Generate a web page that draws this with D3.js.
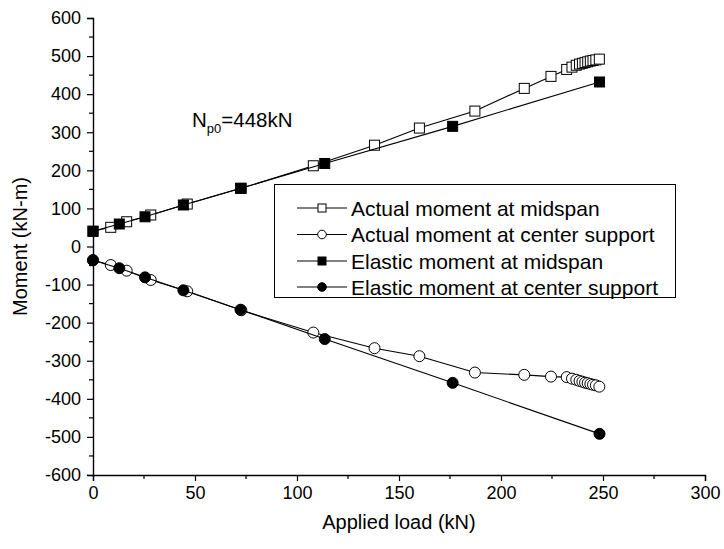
<!DOCTYPE html>
<html>
<head>
<meta charset="utf-8">
<script src="https://cdn.jsdelivr.net/npm/d3@7"></script>
<style>
  html, body { margin: 0; padding: 0; background: #fff; }
  svg { display: block; font-family: "Liberation Sans", Arial, sans-serif; }
</style>
</head>
<body>
<svg id="chart" width="724" height="549"></svg>
<script>
// Measured loads (kN) for the actual-moment series
const loadActual = [0, 8.7, 16.5, 28.3, 46.2, 72.7, 108, 138, 160, 187.2, 211.4, 224.5,
  232.2, 234.8, 236.9, 238.5, 239.9, 241.2, 242.5, 243.8, 245.1, 246.5, 248.2];
const actualMidspan = [40, 50.4, 65, 82.7, 111.5, 152.8, 212, 266, 311, 355.6, 415.2, 446.7,
  465, 471, 476, 479, 481, 483, 485, 487, 488.5, 490, 492];
const actualSupport = [-36, -48.6, -63.5, -88, -117.6, -167.5, -226, -267, -288, -331, -337, -341.6,
  -343, -347, -350, -353, -355, -357.5, -359, -361, -363, -364.5, -368];

// Loads (kN) at which the elastic moments were computed
const loadElastic = [0, 12.9, 25.5, 44.3, 72.3, 113.6, 176.3, 248.3];
const elasticMidspan = [40, 59, 78, 109, 152.8, 218, 315.5, 432];
const elasticSupport = [-36, -57, -81, -115, -166, -243, -358, -492];

const seriesNames = ["Actual moment at midspan", "Actual moment at center support",
  "Elastic moment at midspan", "Elastic moment at center support"];

const xTicks = [0, 50, 100, 150, 200, 250, 300];
const yTicks = [-600, -500, -400, -300, -200, -100, 0, 100, 200, 300, 400, 500, 600];

const svg = d3.select("#chart");
const plotLeft = 93, plotRight = 705, plotTop = 18, plotBottom = 475;

const x = d3.scaleLinear().domain([0, 300]).range([plotLeft, plotRight]);
const y = d3.scaleLinear().domain([-600, 600]).range([plotBottom, plotTop]);

// Plain hyphen-minus for negative tick labels
const fmt = d => String(d);

// Axes: major ticks labelled, minor ticks in between
const xMinor = d3.range(0, 301, 25).filter(v => v % 50 !== 0);
const yMinor = d3.range(-550, 600, 100);

const xAxis = svg.append("g").attr("transform", `translate(0,${plotBottom})`);
xAxis.call(d3.axisBottom(x).tickValues(xTicks).tickSize(6).tickPadding(5).tickFormat(fmt));
xAxis.append("g").selectAll("line").data(xMinor).join("line")
  .attr("x1", d => x(d)).attr("x2", d => x(d)).attr("y1", 0).attr("y2", 4)
  .attr("stroke", "#000").attr("stroke-width", 1.2);

const yAxis = svg.append("g").attr("transform", `translate(${plotLeft},0)`);
yAxis.call(d3.axisLeft(y).tickValues(yTicks).tickSize(6).tickPadding(6).tickFormat(fmt));
yAxis.append("g").selectAll("line").data(yMinor).join("line")
  .attr("y1", d => y(d)).attr("y2", d => y(d)).attr("x1", 0).attr("x2", -4)
  .attr("stroke", "#000").attr("stroke-width", 1.2);

svg.selectAll(".domain").attr("stroke", "#000").attr("stroke-width", 1.4);
svg.selectAll(".tick line").attr("stroke", "#000").attr("stroke-width", 1.2);
svg.selectAll(".tick text").attr("font-size", 18).attr("fill", "#000")
  .attr("font-family", "'Liberation Sans', Arial, sans-serif");

// Axis titles
svg.append("text").attr("x", (plotLeft + plotRight) / 2).attr("y", 529)
  .attr("text-anchor", "middle").attr("font-size", 20).text("Applied load (kN)");
svg.append("text").attr("transform", `translate(27,${(plotTop + plotBottom) / 2}) rotate(-90)`)
  .attr("text-anchor", "middle").attr("font-size", 20).text("Moment (kN-m)");

// Annotation
const ann = svg.append("text").attr("x", 192).attr("y", 127).attr("font-size", 20.5);
ann.append("tspan").text("N");
ann.append("tspan").attr("font-size", 13).attr("dy", 6).text("p0");
ann.append("tspan").attr("dy", -6).text("=448kN");

// Series drawing helpers
const line = d3.line().x(d => x(d[0])).y(d => y(d[1]));
const MS = 10;    // square side
const MR = 5.5;   // circle radius

function drawMarker(g, shape, filled, cx, cy) {
  if (shape === "square") {
    g.append("rect").attr("x", cx - MS / 2).attr("y", cy - MS / 2)
      .attr("width", MS).attr("height", MS)
      .attr("fill", filled ? "#000" : "#fff").attr("stroke", "#000").attr("stroke-width", 1);
  } else {
    g.append("circle").attr("cx", cx).attr("cy", cy).attr("r", MR)
      .attr("fill", filled ? "#000" : "#fff").attr("stroke", "#000").attr("stroke-width", 1);
  }
}

function drawSeries(loads, values, shape, filled) {
  const pts = loads.map((l, i) => [l, values[i]]);
  const g = svg.append("g");
  g.append("path").datum(pts).attr("d", line)
    .attr("fill", "none").attr("stroke", "#000").attr("stroke-width", 1.1);
  pts.forEach(p => drawMarker(g, shape, filled, x(p[0]), y(p[1])));
}

drawSeries(loadActual, actualMidspan, "square", false);
drawSeries(loadActual, actualSupport, "circle", false);
drawSeries(loadElastic, elasticMidspan, "square", true);
drawSeries(loadElastic, elasticSupport, "circle", true);

// Legend
const legend = svg.append("g");
legend.append("rect").attr("x", 274.5).attr("y", 184.5).attr("width", 401).attr("height", 113)
  .attr("fill", "#fff").attr("stroke", "#000").attr("stroke-width", 1);
const legendStyle = [["square", false], ["circle", false], ["square", true], ["circle", true]];
const rowY = [208, 234.5, 261, 287];
seriesNames.forEach((name, i) => {
  const ry = rowY[i];
  legend.append("line").attr("x1", 297).attr("x2", 347).attr("y1", ry).attr("y2", ry)
    .attr("stroke", "#000").attr("stroke-width", 1);
  const [shape, filled] = legendStyle[i];
  if (shape === "square") {
    legend.append("rect").attr("x", 322 - 4).attr("y", ry - 4).attr("width", 8).attr("height", 8)
      .attr("fill", filled ? "#000" : "#fff").attr("stroke", "#000").attr("stroke-width", 1);
  } else {
    legend.append("circle").attr("cx", 322).attr("cy", ry).attr("r", 4.3)
      .attr("fill", filled ? "#000" : "#fff").attr("stroke", "#000").attr("stroke-width", 1);
  }
  legend.append("text").attr("x", 351).attr("y", ry + 7.5).attr("font-size", 21).text(name);
});
</script>
</body>
</html>
